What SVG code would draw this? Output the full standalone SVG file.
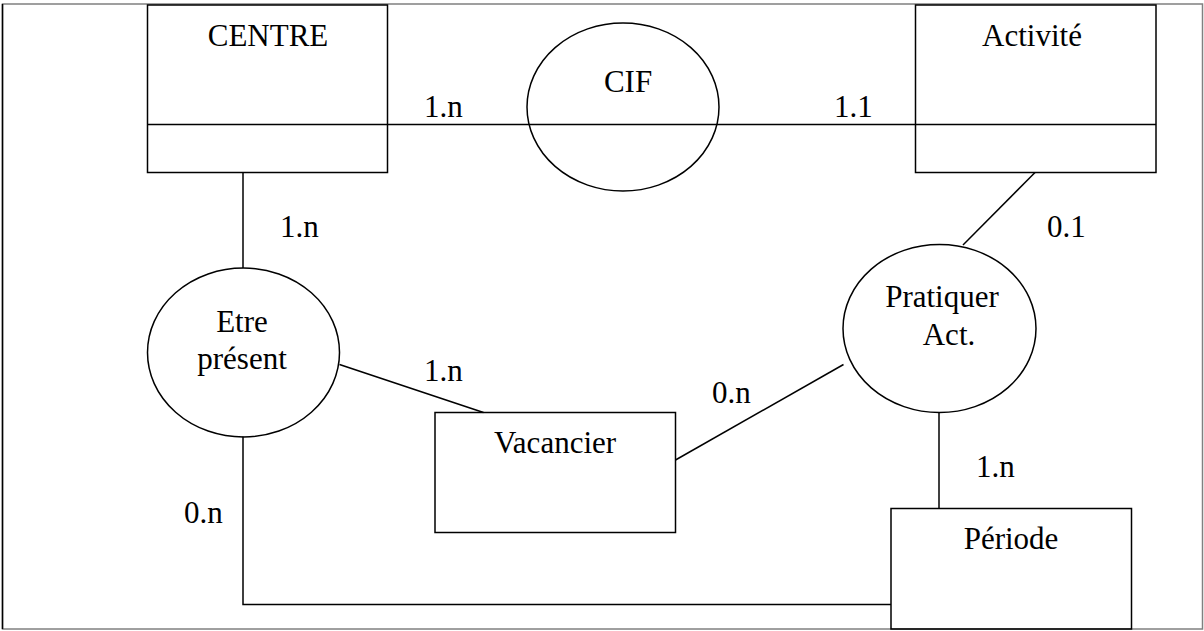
<svg xmlns="http://www.w3.org/2000/svg" width="1204" height="631" viewBox="0 0 1204 631">
<style>
.s{fill:none;stroke:#000;stroke-width:1.5}
.w{fill:#fff;stroke:#000;stroke-width:1.5}
text{font-family:"Liberation Serif","Times New Roman",serif;font-size:31px;fill:#000}
.m{text-anchor:middle}
</style>
<rect x="0" y="0" width="1204" height="631" fill="#fff"/>
<rect x="2.5" y="4" width="1200" height="625" fill="none" stroke="#808080" stroke-width="1.5"/>
<path d="M2.5 4V629" stroke="#000" stroke-width="1.5"/>
<g id="connectors">
<line class="s" x1="387" y1="124.5" x2="916" y2="124.5"/>
<line class="s" x1="1035" y1="172.5" x2="963" y2="245"/>
<line class="s" x1="243" y1="172.5" x2="243" y2="268"/>
<line class="s" x1="339.5" y1="364.5" x2="483.5" y2="412.5"/>
<line class="s" x1="675.5" y1="460" x2="843.5" y2="364.5"/>
<line class="s" x1="939" y1="412.5" x2="939" y2="508.5"/>
<polyline class="s" points="243,436.5 243,604.5 891,604.5"/>
<text x="424" y="117">1.n</text>
<text x="834" y="117">1.1</text>
<text x="280" y="237">1.n</text>
<text x="1047" y="237">0.1</text>
<text x="424" y="381">1.n</text>
<text x="712" y="403">0.n</text>
<text x="976" y="477">1.n</text>
<text x="184" y="523">0.n</text>
</g>
<g id="centre">
<rect class="s" x="147.5" y="5" width="240" height="167.5"/>
<line class="s" x1="147.5" y1="124.5" x2="387.5" y2="124.5"/>
<text class="m" x="268" y="46">CENTRE</text>
</g>
<g id="cif">
<ellipse class="s" cx="623" cy="107" rx="96" ry="84"/>
<text class="m" x="628" y="92">CIF</text>
</g>
<g id="activite">
<rect class="s" x="915.5" y="5" width="240.5" height="167.5"/>
<line class="s" x1="915.5" y1="124.5" x2="1156" y2="124.5"/>
<text class="m" x="1032" y="46">Activité</text>
</g>
<g id="etre-present">
<ellipse class="s" cx="243.5" cy="352.5" rx="96" ry="84.5"/>
<text class="m" x="242" y="332">Etre</text>
<text class="m" x="242" y="369">présent</text>
</g>
<g id="pratiquer-act">
<ellipse class="s" cx="939.5" cy="328.5" rx="96.5" ry="84"/>
<text class="m" x="942" y="307">Pratiquer</text>
<text class="m" x="949" y="345">Act.</text>
</g>
<g id="vacancier">
<rect class="s" x="435" y="412.5" width="240.5" height="120"/>
<text class="m" x="555" y="453">Vacancier</text>
</g>
<g id="periode">
<rect class="s" x="891" y="508.5" width="240.5" height="120.5"/>
<text class="m" x="1011" y="549">Période</text>
</g>
</svg>
